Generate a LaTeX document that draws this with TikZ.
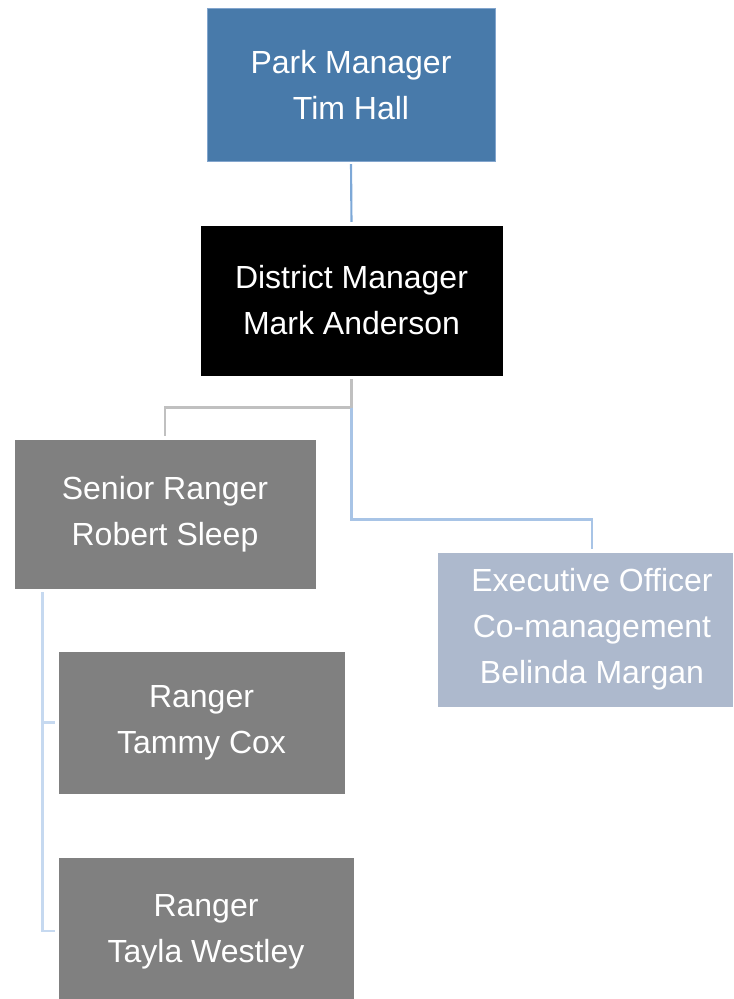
\documentclass[tikz,border=0pt]{standalone}
\usepackage{fontspec}
\setmainfont{Liberation Sans}

\definecolor{parkblue}{RGB}{72,122,170}
\definecolor{parkedge}{RGB}{130,165,205}
\definecolor{rangergray}{RGB}{128,128,128}
\definecolor{execgray}{RGB}{173,185,205}
\definecolor{topline}{RGB}{125,168,215}
\definecolor{grayline}{RGB}{192,192,192}
\definecolor{blueline}{RGB}{168,196,230}
\definecolor{paleline}{RGB}{198,217,240}

\tikzset{every picture/.style={line width=0.75pt}}
\tikzset{
  orgbox/.style={draw=white, text=white, align=center, inner sep=0pt,
    font=\fontsize{24}{34.5}\selectfont},
  link/.style={line width=1.6pt}
}

\begin{document}
\begin{tikzpicture}[x=0.75pt,y=0.75pt,yscale=-1,xscale=1]
	\useasboundingbox (0,0) rectangle (733,999);

	%Shape: Rectangle [park manager]
	\node [orgbox, draw=parkedge, fill=parkblue, minimum width=216pt, minimum height=114pt] (park) at (351,85) {Park Manager\\Tim Hall};
	%Shape: Rectangle [district manager]
	\node [orgbox, fill=black, minimum width=227.25pt, minimum height=113.25pt] (district) at (351.5,300.5) {District Manager\\Mark Anderson};
	%Shape: Rectangle [senior ranger]
	\node [orgbox, fill=rangergray, minimum width=226.5pt, minimum height=112.5pt] (senior) at (165,514) {Senior Ranger\\Robert Sleep};
	%Shape: Rectangle [executive officer]
	\node [orgbox, fill=execgray, minimum width=222pt, minimum height=116.25pt] (exec) at (585,629.5) {\hspace*{10.5pt}Executive Officer\\\hspace*{10.5pt}Co-management\\\hspace*{10.5pt}Belinda Margan};
	%Shape: Rectangle [ranger 1]
	\node [orgbox, fill=rangergray, minimum width=215.25pt, minimum height=107.25pt] (tammy) at (201.5,722.5) {Ranger\\Tammy Cox};
	%Shape: Rectangle [ranger 2]
	\node [orgbox, fill=rangergray, minimum width=222pt, minimum height=112.5pt] (tayla) at (206,932) {Ranger\\Tayla Westley};

	%Straight Lines
	\draw [link, topline, shorten <=2pt, shorten >=2pt] (park.south) -- (district.north) ;
	\coordinate (split) at ([yshift=23.25pt]district.south);
	\coordinate (exectop) at ([xshift=5.25pt,yshift=-24pt]exec.north);
	\coordinate (spine) at ([xshift=21.75pt,yshift=2pt]senior.south west);
	%Elbow Lines
	\draw [link, grayline, shorten >=2pt] ([yshift=2pt]district.south) -- (split) -| (senior.north) ;
	\draw [link, blueline, shorten >=2pt] (split) |- (exectop) -- ([xshift=5.25pt]exec.north) ;
	\draw [link, paleline, shorten >=2.25pt] (spine) |- (tammy.west) ;
	\draw [link, paleline, shorten >=2.25pt] (spine) |- ([yshift=-0.75pt]tayla.west) ;

\end{tikzpicture}
\end{document}
